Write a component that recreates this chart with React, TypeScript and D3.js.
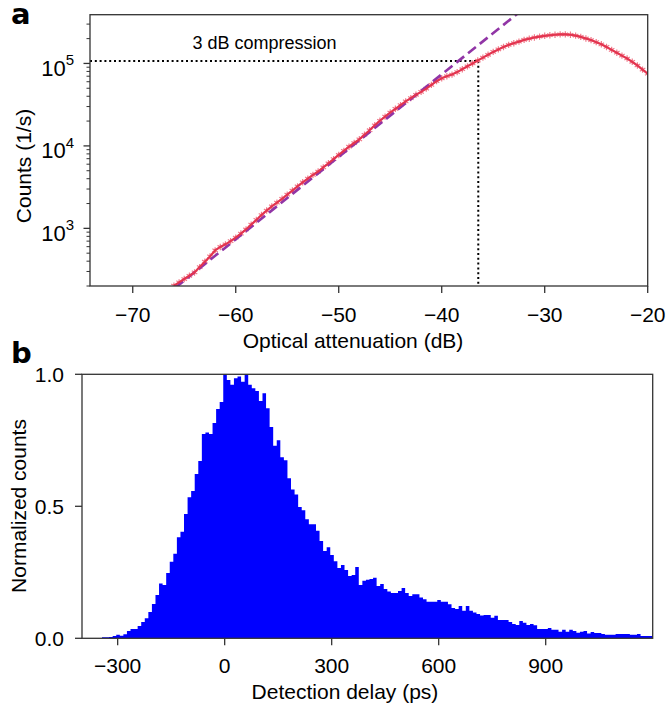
import React, { useRef, useEffect } from "react";
import * as d3 from "d3";

// panel a: count rate vs optical attenuation
const attenuationDb = [
  -66, -65.5, -65, -64.5, -64, -63.5, -63, -62.5, -62, -61.5, -61, -60.5, -60, -59.5, -59, -58.5,
  -58, -57.5, -57, -56.5, -56, -55.5, -55, -54.5, -54, -53.5, -53, -52.5, -52, -51.5, -51, -50.5,
  -50, -49.5, -49, -48.5, -48, -47.5, -47, -46.5, -46, -45.5, -45, -44.5, -44, -43.5, -43, -42.5,
  -42, -41.5, -41, -40.5, -40, -39.5, -39, -38.5, -38, -37.5, -37, -36.5, -36, -35.5, -35, -34.5,
  -34, -33.5, -33, -32.5, -32, -31.5, -31, -30.5, -30, -29.5, -29, -28.5, -28, -27.5, -27, -26.5,
  -26, -25.5, -25, -24.5, -24, -23.5, -23, -22.5, -22, -21.5, -21, -20.5, -20,
];
const countsPerSecond = [
  202, 221, 243, 266, 292, 339, 394, 457, 540, 595, 640, 700, 770, 865, 970, 1110,
  1265, 1450, 1645, 1850, 2055, 2285, 2560, 2875, 3225, 3620, 4015, 4455, 4890, 5480, 6150, 6900,
  7762, 8710, 9772, 10840, 12020, 13650, 15490, 17780, 20180, 22650, 25410, 28180, 31260, 34670, 38020, 41690,
  45190, 49550, 54950, 60950, 66070, 69980, 73280, 78520, 85110, 92260, 100000, 108400, 117500, 127400, 138000, 147900,
  158500, 167900, 175800, 184100, 192800, 199500, 206500, 211300, 216300, 219800, 222800, 224900, 224900, 222800, 217800, 209900,
  200900, 191900, 181100, 170600, 158500, 146200, 134900, 124500, 114800, 104700, 94410, 84140, 74990,
];
// linear fit (slope 1 decade / 10 dB)
const fitDb = [-67, -30];
const fitCounts = [147, 738000];
const compressionDb = -36.45;
const compressionCounts = 107000;
const attenuationTicks = [-70, -60, -50, -40, -30, -20];

// panel b: detection delay histogram, 10 ps bins starting at -404 ps
const delayBinStart = -404;
const delayBinWidth = 10;
const normalizedCounts = [
  0, 0, 0, 0, 0, 0, 0.004, 0.004, 0.005, 0.009, 0.013, 0.01, 0.015, 0.028, 0.035, 0.035,
  0.047, 0.062, 0.076, 0.1, 0.13, 0.164, 0.208, 0.202, 0.247, 0.29, 0.32, 0.383, 0.404, 0.471, 0.534, 0.558,
  0.622, 0.672, 0.774, 0.78, 0.774, 0.816, 0.869, 0.895, 1.0, 0.978, 0.96, 0.985, 0.992, 0.972, 1.0, 0.96,
  0.947, 0.937, 0.899, 0.928, 0.871, 0.8, 0.729, 0.75, 0.686, 0.674, 0.606, 0.564, 0.545, 0.497, 0.485, 0.451,
  0.432, 0.432, 0.407, 0.369, 0.331, 0.345, 0.316, 0.292, 0.266, 0.278, 0.259, 0.236, 0.24, 0.27, 0.202, 0.218,
  0.222, 0.225, 0.229, 0.198, 0.206, 0.187, 0.177, 0.172, 0.172, 0.179, 0.191, 0.172, 0.16, 0.167, 0.167, 0.155,
  0.148, 0.138, 0.138, 0.138, 0.145, 0.138, 0.138, 0.129, 0.115, 0.111, 0.122, 0.104, 0.122, 0.104, 0.098, 0.092,
  0.086, 0.088, 0.088, 0.078, 0.085, 0.069, 0.069, 0.069, 0.062, 0.054, 0.05, 0.066, 0.059, 0.05, 0.054, 0.049,
  0.035, 0.035, 0.035, 0.039, 0.032, 0.032, 0.025, 0.032, 0.025, 0.032, 0.028, 0.021, 0.025, 0.028, 0.018, 0.024,
  0.02, 0.02, 0.016, 0.013, 0.013, 0.013, 0.016, 0.016, 0.016, 0.016, 0.013, 0.013, 0.016, 0.009, 0.009, 0.009,
  0.009,
];
const delayTicks = [-300, 0, 300, 600, 900];
const normalizedTicks = [0, 0.5, 1.0];

const FONT = "'Liberation Sans', Arial, Helvetica, sans-serif";

function App() {
  const svgRef = useRef<SVGSVGElement>(null);

  useEffect(() => {
    const svg = d3.select(svgRef.current);
    svg.selectAll("*").remove();

    // ---------- panel a ----------
    const xA = d3.scaleLinear().domain([-74.15, -20]).range([90, 647.7]);
    const yA = d3.scaleLog().domain([200, 3.9e5]).range([286, 14.7]);
    const [ax0, ax1] = xA.range();
    const [ay0, ay1] = yA.range();

    svg.append("clipPath").attr("id", "clipA")
      .append("rect").attr("x", ax0).attr("y", ay1).attr("width", ax1 - ax0).attr("height", ay0 - ay1);

    const gA = svg.append("g").attr("clip-path", "url(#clipA)");

    // compression guides
    gA.append("line")
      .attr("x1", ax0).attr("x2", xA(compressionDb))
      .attr("y1", yA(compressionCounts)).attr("y2", yA(compressionCounts))
      .attr("stroke", "#000").attr("stroke-width", 2).attr("stroke-dasharray", "2 2.8");
    gA.append("line")
      .attr("x1", xA(compressionDb)).attr("x2", xA(compressionDb))
      .attr("y1", yA(compressionCounts)).attr("y2", ay0)
      .attr("stroke", "#000").attr("stroke-width", 2).attr("stroke-dasharray", "2 2.8");

    const pts = attenuationDb.map((d, i) => [d, countsPerSecond[i]] as [number, number]);

    // markers
    const star = d3.symbol().type(d3.symbolAsterisk).size(28);
    gA.selectAll("path.mk").data(pts).enter().append("path")
      .attr("class", "mk")
      .attr("d", star as any)
      .attr("transform", (d) => `translate(${xA(d[0])},${yA(d[1])})`)
      .attr("fill", "none")
      .attr("stroke", "#f07a8a")
      .attr("stroke-width", 1.2);

    // fit line
    const fitPts = fitDb.map((d, i) => [d, fitCounts[i]] as [number, number]);
    gA.append("path")
      .datum(fitPts)
      .attr("d", d3.line().x((d) => xA(d[0])).y((d) => yA(d[1])) as any)
      .attr("fill", "none")
      .attr("stroke", "#9135a6")
      .attr("stroke-width", 2.6)
      .attr("stroke-dasharray", "10 5");

    // measured curve
    gA.append("path")
      .datum(pts)
      .attr("d", d3.line().x((d) => xA(d[0])).y((d) => yA(d[1])) as any)
      .attr("fill", "none")
      .attr("stroke", "#e3344f")
      .attr("stroke-width", 2.2);

    // spines
    svg.append("rect")
      .attr("x", ax0).attr("y", ay1).attr("width", ax1 - ax0).attr("height", ay0 - ay1)
      .attr("fill", "none").attr("stroke", "#333").attr("stroke-width", 1.3);

    // x ticks
    const xtA = svg.append("g");
    attenuationTicks.forEach((t) => {
      xtA.append("line").attr("x1", xA(t)).attr("x2", xA(t)).attr("y1", ay0).attr("y2", ay0 + 7)
        .attr("stroke", "#333").attr("stroke-width", 1.3);
      xtA.append("text").attr("x", xA(t)).attr("y", 322).attr("text-anchor", "middle")
        .attr("font-family", FONT).attr("font-size", 21).attr("fill", "#000")
        .text(String(t).replace("-", "\u2212"));
    });

    // y ticks (log)
    const ytA = svg.append("g");
    yA.ticks().forEach((t) => {
      const e = Math.log10(t);
      const major = Math.abs(e - Math.round(e)) < 1e-9;
      ytA.append("line").attr("x1", ax0 - (major ? 6.5 : 3.5)).attr("x2", ax0)
        .attr("y1", yA(t)).attr("y2", yA(t))
        .attr("stroke", "#333").attr("stroke-width", major ? 1.3 : 1);
      if (major) {
        const txt = ytA.append("text").attr("x", 74).attr("y", yA(t) + 12.5)
          .attr("text-anchor", "end").attr("font-family", FONT).attr("font-size", 22).attr("fill", "#000");
        txt.append("tspan").text("10");
        txt.append("tspan").attr("dy", -10.5).attr("font-size", 15).text(String(Math.round(e)));
      }
    });

    svg.append("text").attr("x", 192.5).attr("y", 49)
      .attr("font-family", FONT).attr("font-size", 18).attr("fill", "#000")
      .text("3 dB compression");

    svg.append("text").attr("x", 353).attr("y", 348).attr("text-anchor", "middle")
      .attr("font-family", FONT).attr("font-size", 21).attr("fill", "#000")
      .text("Optical attenuation (dB)");
    svg.append("text").attr("transform", "translate(31,166) rotate(-90)").attr("text-anchor", "middle")
      .attr("font-family", FONT).attr("font-size", 21).attr("fill", "#000")
      .text("Counts (1/s)");

    svg.append("text").attr("x", 11).attr("y", 24)
      .attr("font-family", "'DejaVu Sans', sans-serif").attr("font-weight", "bold").attr("font-size", 29)
      .text("a");

    // ---------- panel b ----------
    const xB = d3.scaleLinear().domain([-400, 1200]).range([82, 652.7]);
    const yB = d3.scaleLinear().domain([0, 1]).range([638.3, 374.3]);
    const [bx0, bx1] = xB.range();
    const [by0, by1] = yB.range();

    svg.append("clipPath").attr("id", "clipB")
      .append("rect").attr("x", bx0).attr("y", by1).attr("width", bx1 - bx0).attr("height", by0 - by1);

    // histogram as a step area (bin left edge, value), closed by the last right edge
    const histPts = normalizedCounts.map((v, i) => [delayBinStart + i * delayBinWidth, v] as [number, number]);
    histPts.push([delayBinStart + normalizedCounts.length * delayBinWidth, normalizedCounts[normalizedCounts.length - 1]]);
    const histArea = d3.area<[number, number]>()
      .x((d) => xB(d[0]))
      .y0(by0)
      .y1((d) => yB(d[1]))
      .curve(d3.curveStepAfter);

    svg.append("g").attr("clip-path", "url(#clipB)")
      .append("path")
      .datum(histPts)
      .attr("d", histArea as any)
      .attr("fill", "#0000ff");

    svg.append("rect")
      .attr("x", bx0).attr("y", by1).attr("width", bx1 - bx0).attr("height", by0 - by1)
      .attr("fill", "none").attr("stroke", "#333").attr("stroke-width", 1.3);

    const xtB = svg.append("g");
    delayTicks.forEach((t) => {
      xtB.append("line").attr("x1", xB(t)).attr("x2", xB(t)).attr("y1", by0).attr("y2", by0 + 7)
        .attr("stroke", "#333").attr("stroke-width", 1.3);
      xtB.append("text").attr("x", xB(t)).attr("y", 673).attr("text-anchor", "middle")
        .attr("font-family", FONT).attr("font-size", 21).attr("fill", "#000")
        .text(String(t).replace("-", "\u2212"));
    });
    const ytB = svg.append("g");
    normalizedTicks.forEach((t) => {
      ytB.append("line").attr("x1", bx0 - 7).attr("x2", bx0).attr("y1", yB(t)).attr("y2", yB(t))
        .attr("stroke", "#333").attr("stroke-width", 1.3);
      ytB.append("text").attr("x", 64).attr("y", yB(t) + 7.5).attr("text-anchor", "end")
        .attr("font-family", FONT).attr("font-size", 21).attr("fill", "#000")
        .text(d3.format(".1f")(t));
    });

    svg.append("text").attr("x", 345).attr("y", 699).attr("text-anchor", "middle")
      .attr("font-family", FONT).attr("font-size", 21).attr("fill", "#000")
      .text("Detection delay (ps)");
    svg.append("text").attr("transform", "translate(26,506) rotate(-90)").attr("text-anchor", "middle")
      .attr("font-family", FONT).attr("font-size", 21).attr("fill", "#000")
      .text("Normalized counts");

    svg.append("text").attr("x", 11).attr("y", 363)
      .attr("font-family", "'DejaVu Sans', sans-serif").attr("font-weight", "bold").attr("font-size", 29)
      .text("b");
  }, []);

  return (
    <svg
      ref={svgRef}
      width={669}
      height={706}
      style={{ position: "absolute", left: 0, top: 0, background: "#fff" }}
    />
  );
}

export default App;
